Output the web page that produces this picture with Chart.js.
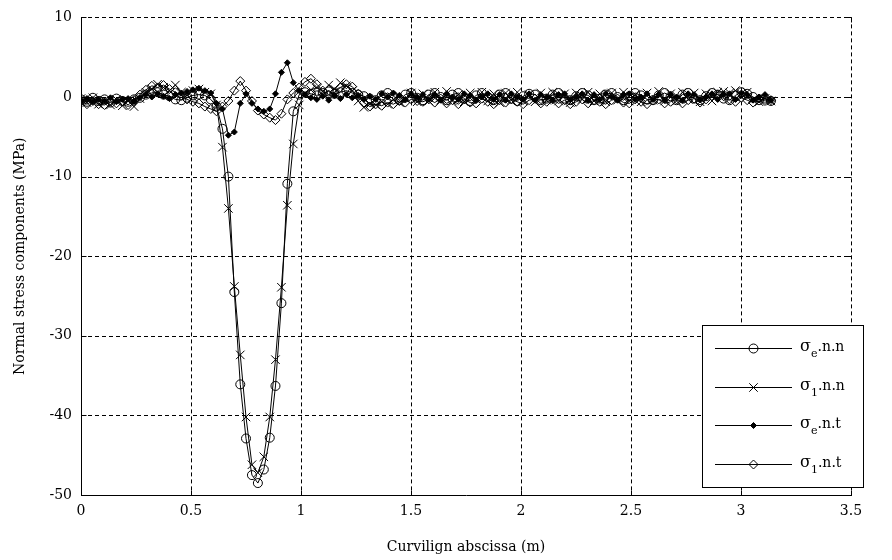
<!DOCTYPE html>
<html><head><meta charset="utf-8">
<script src="https://cdn.jsdelivr.net/npm/chart.js@4"></script>
<style>html,body{margin:0;padding:0;background:#fff}#wrap{width:892px;height:560px}</style>
</head><body><div id="wrap"><canvas id="c" width="892" height="560"></canvas></div>
<script>
const xs = [
 0, 0.027, 0.054, 0.080, 0.107, 0.134, 0.161, 0.188, 0.214, 0.241,
 0.268, 0.295, 0.322, 0.348, 0.375, 0.402, 0.429, 0.456, 0.482, 0.509,
 0.536, 0.563, 0.590, 0.616, 0.643, 0.670, 0.697, 0.724, 0.750, 0.777,
 0.804, 0.831, 0.858, 0.884, 0.911, 0.938, 0.965, 0.992, 1.018, 1.045,
 1.072, 1.099, 1.126, 1.152, 1.179, 1.206, 1.233, 1.260, 1.286, 1.313,
 1.340, 1.367, 1.394, 1.420, 1.447, 1.474, 1.501, 1.528, 1.554, 1.581,
 1.608, 1.635, 1.662, 1.688, 1.715, 1.742, 1.769, 1.796, 1.822, 1.849,
 1.876, 1.903, 1.930, 1.956, 1.983, 2.010, 2.037, 2.064, 2.090, 2.117,
 2.144, 2.171, 2.198, 2.224, 2.251, 2.278, 2.305, 2.332, 2.358, 2.385,
 2.412, 2.439, 2.466, 2.492, 2.519, 2.546, 2.573, 2.600, 2.626, 2.653,
 2.680, 2.707, 2.734, 2.760, 2.787, 2.814, 2.841, 2.868, 2.894, 2.921,
 2.948, 2.975, 3.002, 3.028, 3.055, 3.082, 3.109, 3.136
];
const sigmaE_nn = [
 -0.3, -0.6, -0.1, -0.5, -0.3, -0.7, -0.2, -0.5, -0.6, -0.3,
 -0.1, 0.3, 0.5, 0.6, 0.3, 0.1, -0.3, -0.4, -0.1, 0.2,
 0.3, 0.2, -0.3, -1.2, -4.0, -10.0, -24.5, -36.1, -42.9, -47.5,
 -48.5, -46.8, -42.8, -36.3, -25.9, -10.9, -1.8, 0.3, 0.6, 0.4,
 0.2, 0.5, 0.7, 0.4, 0.6, 0.8, 0.5, 0.3, 0.1, -0.2,
 -0.4, 0.2, 0.5, 0.1, -0.4, 0.3, 0.5, -0.1, -0.4, 0.3,
 0.5, 0.0, -0.4, 0.3, 0.5, -0.2, -0.5, 0.2, 0.5, 0.0,
 -0.4, 0.3, 0.5, -0.2, -0.5, 0.1, 0.4, 0.3, -0.4, -0.2,
 0.3, 0.5, -0.2, -0.4, 0.1, 0.5, 0.2, -0.4, -0.2, 0.3,
 0.5, 0.0, -0.4, 0.1, 0.5, 0.2, -0.3, -0.4, 0.2, 0.5,
 0.1, -0.4, 0.3, 0.5, -0.2, -0.4, 0.1, 0.5, 0.3, -0.2,
 -0.4, 0.2, 0.6, 0.4, 0.0, -0.4, -0.2, -0.5
];
const sigma1_nn = [
 -0.2, -0.7, -0.1, -0.9, -0.4, -1.0, -0.3, -1.1, -0.5, -1.2,
 -0.2, 0.6, 1.0, 1.6, 1.2, 0.8, 1.5, 0.6, 0.2, 0.8,
 1.0, 0.6, 0.4, -1.0, -6.3, -14.0, -23.8, -32.4, -40.2, -46.2,
 -47.2, -45.2, -40.2, -33.0, -23.9, -13.6, -5.9, -1.0, 0.5, 0.9,
 1.2, 0.7, 1.5, 1.0, 1.8, 1.4, 0.8, -0.5, -1.3, -0.9,
 -1.0, -0.6, -0.9, -0.3, -0.7, -0.2, 0.5, -0.6, 0.4, -0.5,
 0.6, -0.4, 0.7, -0.5, 0.3, -0.6, 0.5, -0.3, 0.6, -0.5,
 0.4, -0.7, 0.5, -0.4, 0.6, -0.5, 0.3, -0.6, 0.5, -0.4,
 0.6, -0.5, 0.4, -0.7, 0.5, -0.3, 0.6, -0.5, 0.4, -0.6,
 0.5, -0.4, 0.6, -0.5, 0.3, -0.6, 0.5, -0.4, 0.7, -0.5,
 0.4, -0.5, 0.6, -0.3, 0.5, -0.6, 0.4, -0.5, 0.6, 0.7,
 0.5, 0.8, 0.4, 0.6, -0.3, -0.6, -0.2, -0.5
];
const sigmaE_nt = [
 -0.5, -0.2, -0.6, -0.3, -0.5, -0.1, -0.6, -0.3, -0.2, -0.5,
 -0.1, 0.3, 0.0, 0.4, 0.1, -0.2, 0.3, 0.5, 0.7, 0.9,
 1.1, 0.8, 0.5, -0.8, -1.5, -4.8, -4.4, -0.8, 0.4, -0.8,
 -1.5, -1.8, -1.5, 0.4, 3.1, 4.3, 1.8, 0.8, 0.3, -0.1,
 -0.3, 0.1, -0.4, 0.2, -0.2, 0.3, -0.1, 0.2, -0.3, 0.1,
 -0.3, 0.4, 0.0, 0.5, 0.2, -0.3, 0.4, 0.0, 0.3, -0.3,
 0.3, -0.4, 0.4, 0.0, -0.3, 0.4, 0.2, -0.4, 0.0, 0.4,
 -0.3, 0.3, -0.4, 0.4, 0.0, -0.3, 0.4, -0.4, 0.3, 0.0,
 -0.4, 0.3, 0.4, -0.3, 0.0, 0.4, -0.4, 0.3, -0.3, 0.4,
 0.0, -0.4, 0.3, 0.4, -0.3, 0.0, 0.4, -0.3, 0.3, -0.4,
 0.3, 0.0, -0.4, 0.4, 0.3, -0.3, 0.0, 0.4, -0.3, 0.3,
 0.4, -0.3, 0.5, 0.3, -0.4, 0.0, 0.3, -0.4
];
const sigma1_nt = [
 -0.6, -0.9, -0.5, -0.9, -1.0, -0.6, -0.8, -0.5, -1.0, -0.4,
 0.3, 0.9, 1.4, 1.2, 1.5, 1.0, 0.6, 0.2, -0.3, -0.6,
 -0.8, -1.2, -1.5, -1.8, -1.2, -0.5, 0.8, 2.0, 0.8, -0.5,
 -1.7, -2.2, -2.6, -2.9, -2.1, -0.3, 0.5, 1.2, 1.9, 2.3,
 1.6, 0.8, 0.3, 0.6, 1.2, 1.6, 1.3, 0.4, -0.7, -1.2,
 -0.9, -1.1, -0.7, -0.9, -0.5, -0.7, -0.3, -0.5, -0.6, -0.3,
 -0.7, -0.2, -0.8, -0.4, -0.9, -0.3, -0.7, -0.8, -0.2, -0.6,
 -0.9, -0.4, -0.7, -0.3, -0.6, -0.9, -0.4, -0.2, -0.8, -0.6,
 -0.3, -0.8, -0.4, -0.9, -0.6, -0.3, -0.8, -0.4, -0.6, -0.9,
 -0.4, -0.2, -0.7, -0.8, -0.3, -0.6, -0.9, -0.4, -0.3, -0.8,
 -0.6, -0.3, -0.8, -0.4, -0.2, -0.7, -0.3, 0.1, 0.3, 0.1,
 -0.3, -0.6, -0.1, -0.4, -0.7, -0.2, -0.5, -0.4
];
const seriesNames = ['σe.n.n', 'σ1.n.n', 'σe.n.t', 'σ1.n.t'];
const xTicks = [0, 0.5, 1, 1.5, 2, 2.5, 3, 3.5];
const yTicks = [-50, -40, -30, -20, -10, 0, 10];
const xTitle = 'Curvilign abscissa (m)';
const yTitle = 'Normal stress components (MPa)';

const FONT = '"DejaVu Serif", "Liberation Serif", serif';
const markers = [
  {style: 'circle', radius: 4.5, fill: 'rgba(0,0,0,0)'},
  {style: 'crossRot', radius: 6, fill: 'rgba(0,0,0,0)'},
  {style: 'rectRot', radius: 3, fill: '#000'},
  {style: 'rectRot', radius: 4.5, fill: 'rgba(0,0,0,0)'}
];
const allSeries = [sigmaE_nn, sigma1_nn, sigmaE_nt, sigma1_nt];

const datasets = allSeries.map((arr, k) => ({
  label: seriesNames[k],
  data: xs.map((x, i) => ({x: x, y: arr[i]})),
  borderColor: '#000',
  borderWidth: 1,
  tension: 0,
  fill: false,
  pointStyle: markers[k].style,
  pointRadius: markers[k].radius,
  pointBorderWidth: 1,
  pointBorderColor: '#000',
  pointBackgroundColor: markers[k].fill
}));

function seg(ctx, x1, y1, x2, y2) { ctx.beginPath(); ctx.moveTo(x1, y1); ctx.lineTo(x2, y2); ctx.stroke(); }

const gridPlugin = {
  id: 'matlabGrid',
  beforeDatasetsDraw(chart) {
    const {ctx, chartArea: {left, right, top, bottom}, scales: {x, y}} = chart;
    ctx.save();
    ctx.strokeStyle = '#000'; ctx.lineWidth = 1;
    ctx.setLineDash([4, 3]);
    xTicks.forEach(v => { if (v === xTicks[0]) return; const px = Math.round(x.getPixelForValue(v)) + 0.5; seg(ctx, px, top, px, bottom); });
    yTicks.forEach(v => { if (v === yTicks[0]) return; const py = Math.round(y.getPixelForValue(v)) + 0.5; seg(ctx, left, py, right, py); });
    ctx.setLineDash([]);
    const tl = 5;
    const L = Math.round(left) + 0.5, B = Math.round(bottom) + 0.5, R = Math.round(right) + 0.5, T = Math.round(top) + 0.5;
    xTicks.forEach(v => { const px = Math.round(x.getPixelForValue(v)) + 0.5; seg(ctx, px, B, px, B - tl); seg(ctx, px, T, px, T + tl); });
    yTicks.forEach(v => { const py = Math.round(y.getPixelForValue(v)) + 0.5; seg(ctx, L, py, L + tl, py); seg(ctx, R, py, R - tl, py); });
    seg(ctx, L, T, L, B + 0.5);
    seg(ctx, L - 0.5, B, R + 0.5, B);
    ctx.restore();
  }
};

function drawMarker(ctx, m, cx, cy) {
  ctx.beginPath();
  const r = m.radius;
  if (m.style === 'circle') { ctx.arc(cx, cy, r, 0, Math.PI * 2); }
  else if (m.style === 'crossRot') { const d = r * Math.SQRT1_2; ctx.moveTo(cx - d, cy - d); ctx.lineTo(cx + d, cy + d); ctx.moveTo(cx + d, cy - d); ctx.lineTo(cx - d, cy + d); }
  else { ctx.moveTo(cx, cy - r); ctx.lineTo(cx + r, cy); ctx.lineTo(cx, cy + r); ctx.lineTo(cx - r, cy); ctx.closePath(); }
  ctx.fillStyle = m.fill; ctx.fill(); ctx.stroke();
}

const legendPlugin = {
  id: 'boxLegend',
  afterDraw(chart) {
    const ctx = chart.ctx;
    const bx = 702.5, by = 325.5, bw = 161, bh = 162;
    ctx.save();
    ctx.fillStyle = '#fff'; ctx.fillRect(bx, by, bw, bh);
    ctx.strokeStyle = '#000'; ctx.lineWidth = 1; ctx.strokeRect(bx, by, bw, bh);
    const rowY = [348, 387, 425, 464];
    chart.data.datasets.forEach((ds, k) => {
      const yy = rowY[k] + 0.5;
      ctx.strokeStyle = '#000'; ctx.lineWidth = 1;
      seg(ctx, 715, yy, 792, yy);
      drawMarker(ctx, markers[k], 753.5, yy);
      const name = ds.label;
      ctx.fillStyle = '#000'; ctx.textBaseline = 'middle'; ctx.textAlign = 'left';
      let tx = 800;
      ctx.font = '16px ' + FONT;
      ctx.fillText(name[0], tx, yy - 2); tx += ctx.measureText(name[0]).width;
      ctx.font = '11px ' + FONT;
      ctx.fillText(name[1], tx, yy + 6); tx += ctx.measureText(name[1]).width;
      ctx.font = '14px ' + FONT;
      ctx.fillText(name.slice(2), tx, yy - 1);
    });
    ctx.restore();
  }
};

new Chart(document.getElementById('c'), {
  type: 'line',
  data: {datasets: datasets},
  options: {
    responsive: false,
    animation: false,
    events: [],
    layout: {padding: {left: 0, right: 41, top: 17, bottom: 0}},
    plugins: {legend: {display: false}, tooltip: {enabled: false}},
    scales: {
      x: {
        type: 'linear', min: 0, max: 3.5,
        afterBuildTicks: s => { s.ticks = xTicks.map(v => ({value: v})); },
        afterFit: s => { s.height = 65; },
        grid: {display: false, drawTicks: false},
        border: {display: false},
        ticks: {color: '#000', padding: 8, maxRotation: 0, autoSkip: false, callback: v => String(v), font: {family: FONT, size: 14}},
        title: {display: true, text: xTitle, color: '#000', padding: {top: 0, bottom: 4}, font: {family: FONT, size: 14}}
      },
      y: {
        type: 'linear', min: -50, max: 10,
        afterBuildTicks: s => { s.ticks = yTicks.map(v => ({value: v})); },
        afterFit: s => { s.width = 81; },
        grid: {display: false, drawTicks: false},
        border: {display: false},
        ticks: {color: '#000', padding: 9, autoSkip: false, callback: v => String(v), font: {family: FONT, size: 14}},
        title: {display: true, text: yTitle, color: '#000', padding: {top: 12, bottom: 0}, font: {family: FONT, size: 14}}
      }
    }
  },
  plugins: [gridPlugin, legendPlugin]
});
</script>
</body></html>
